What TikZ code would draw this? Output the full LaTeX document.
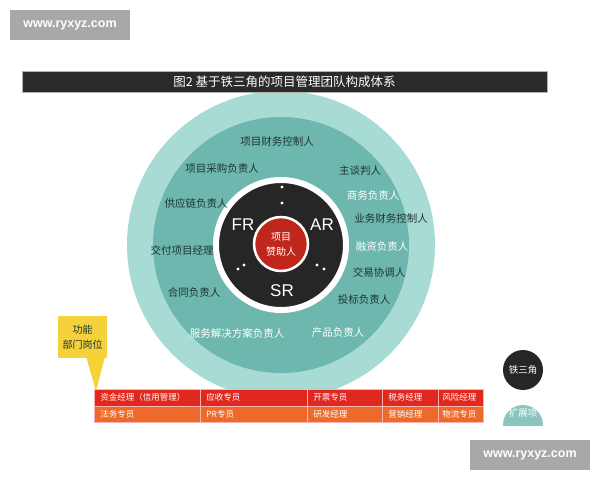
\documentclass[tikz,border=0pt]{standalone}
\usepackage{fontspec}
\setmainfont{Liberation Sans}
\newfontfamily\cjk{Noto Sans CJK SC}
\definecolor{outerc}{HTML}{A9DBD5}
\definecolor{midc}{HTML}{6DB7AE}
\definecolor{darkc}{HTML}{262626}
\definecolor{redc}{HTML}{C0261C}
\definecolor{lblc}{HTML}{1E3434}
\definecolor{wmc}{HTML}{A8A8A8}
\definecolor{row1c}{HTML}{E0281E}
\definecolor{row2c}{HTML}{EE6A2A}
\definecolor{yelc}{HTML}{F5D13A}
\definecolor{titlec}{HTML}{2A2A2A}
\begin{document}
\begin{tikzpicture}[x=1pt,y=-1pt,
  wm/.style={fill=wmc, text=white, minimum width=120pt, minimum height=30pt, inner sep=0pt, font=\bfseries\fontsize{12.5}{15}\selectfont},
  lbl/.style={font=\cjk\fontsize{10.5}{12}\selectfont, text=lblc, inner sep=0pt},
  wlbl/.style={lbl, text=white},
  big/.style={font=\fontsize{17}{19}\selectfont, text=white, inner sep=0pt},
  dot/.style={circle, fill=white, minimum size=3.4pt, inner sep=0pt},
  cell/.style={anchor=north west, font=\cjk\fontsize{8.5}{10}\selectfont, text=white, draw=white!70!red, line width=0.6pt, minimum height=16.5pt, inner ysep=0pt, align=left},
  ringc/.style={circle, inner sep=0pt}]
\useasboundingbox (0,0) rectangle (600,480);
\fill[white] (0,0) rectangle (600,480);

% watermarks
\node[wm] (wm1) at (70,25) {www.ryxyz.com};
\node[wm] (wm2) at (530,455) {www.ryxyz.com};

% circles
\node[ringc, fill=outerc, minimum size=308pt] (outer) at (281,245) {};
\node[ringc, fill=midc, minimum size=256pt] (mid) at (281,245) {};
\node[ringc, fill=darkc, draw=white, line width=6pt, minimum size=130pt] (core) at (281,245) {};
\node[ringc, fill=redc, draw=white, line width=2.5pt, minimum size=54pt, align=center,
  font=\cjk\fontsize{10}{15}\selectfont, text=white] (sponsor) at (281,244) {项目\\赞助人};

% title bar
\node[fill=titlec, draw=gray!60, line width=0.4pt, minimum width=525pt, minimum height=21pt, inner sep=0pt,
  text=white, font=\cjk\fontsize{12.5}{14}\selectfont] (title) at (284.5,81.5) {图2\ 基于铁三角的项目管理团队构成体系};

% core labels and dots
\node[big] (fr) at (243,225) {FR};
\node[big] (ar) at (322,225) {AR};
\node[big] (sr) at (282,291) {SR};
\node[dot] (d1) at (282,187) {};
\node[dot] (d2) at (282,203) {};
\node[dot] (d3) at (238,269) {};
\node[dot] (d4) at (244,265) {};
\node[dot] (d5) at (317,265) {};
\node[dot] (d6) at (324,269) {};

% ring labels
\node[lbl]  (l1)  at (277,141) {项目财务控制人};
\node[lbl]  (l2)  at (222,169) {项目采购负责人};
\node[lbl]  (l3)  at (360,171) {主谈判人};
\node[wlbl] (l4)  at (373,195) {商务负责人};
\node[lbl]  (l5)  at (196,203) {供应链负责人};
\node[lbl]  (l6)  at (391,218) {业务财务控制人};
\node[lbl]  (l7)  at (182,250) {交付项目经理};
\node[wlbl] (l8)  at (382,247) {融资负责人};
\node[lbl]  (l9)  at (379,272) {交易协调人};
\node[lbl]  (l10) at (194,292) {合同负责人};
\node[lbl]  (l11) at (364,300) {投标负责人};
\node[wlbl] (l12) at (237,333) {服务解决方案负责人};
\node[wlbl] (l13) at (338,333) {产品负责人};

% table
\node[cell, fill=row1c, minimum width=106pt, text width=94pt, inner xsep=6pt] (c11) at (94,389) {资金经理（信用管理）};
\node[cell, fill=row1c, minimum width=107pt, text width=95pt, inner xsep=6pt] (c12) at (200,389) {应收专员};
\node[cell, fill=row1c, minimum width=75pt, text width=63pt, inner xsep=6pt] (c13) at (307,389) {开票专员};
\node[cell, fill=row1c, minimum width=56pt, text width=44pt, inner xsep=6pt] (c14) at (382,389) {税务经理};
\node[cell, fill=row1c, minimum width=45pt, text width=37pt, inner xsep=4pt] (c15) at (438,389) {风险经理};
\node[cell, fill=row2c, minimum width=106pt, text width=94pt, inner xsep=6pt] (c21) at (94,405.5) {法务专员};
\node[cell, fill=row2c, minimum width=107pt, text width=95pt, inner xsep=6pt] (c22) at (200,405.5) {PR专员};
\node[cell, fill=row2c, minimum width=75pt, text width=63pt, inner xsep=6pt] (c23) at (307,405.5) {研发经理};
\node[cell, fill=row2c, minimum width=56pt, text width=44pt, inner xsep=6pt] (c24) at (382,405.5) {营销经理};
\node[cell, fill=row2c, minimum width=45pt, text width=37pt, inner xsep=4pt] (c25) at (438,405.5) {物流专员};

% callout
\coordinate (tip) at (96,391);
\fill[yelc] (86,356) -- (107,349) -- (tip) -- cycle;
\node[fill=yelc, anchor=north west, minimum width=49pt, minimum height=42pt, inner sep=0pt, align=center,
  font=\cjk\fontsize{10}{15}\selectfont, text=lblc] (callout) at (58,316) {功能\\部门岗位};

% legend circles
\node[ringc, fill=darkc, minimum size=40pt, text=white, font=\cjk\fontsize{9.5}{11}\selectfont] (tsj) at (523,370) {铁三角};
\begin{scope}
\clip (490,395) rectangle (560,425);
\node[ringc, fill=midc!80!white, minimum size=40pt] (ext) at (523,425) {};
\node[wlbl, font=\cjk\fontsize{9.5}{11}\selectfont] (extt) at (523,413) {扩展项};
\end{scope}
\end{tikzpicture}
\end{document}
